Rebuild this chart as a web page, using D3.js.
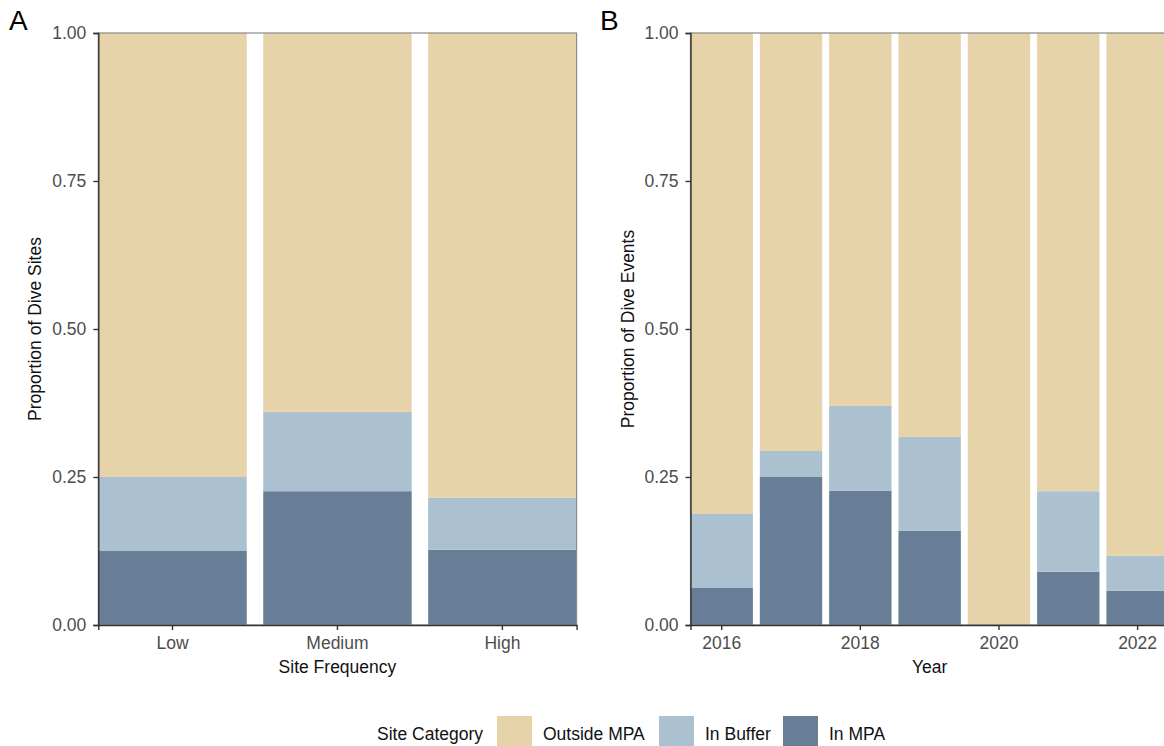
<!DOCTYPE html>
<html>
<head>
<meta charset="utf-8">
<script src="https://cdn.jsdelivr.net/npm/d3@7"></script>
<style>
  body { margin: 0; background: #fff; }
  svg { display: block; font-family: "Liberation Sans", Arial, sans-serif; }
</style>
</head>
<body>
<svg id="chart" width="1164" height="746"></svg>
<script>
// panel A: share of dive sites by site frequency
const freqCategories = ['Low', 'Medium', 'High']
const freqInMPA = [0.125, 0.226, 0.127]
const freqInBuffer = [0.125, 0.134, 0.088]
const freqOutside = [0.75, 0.64, 0.785]

// panel B: share of dive events by year
const years = [2016, 2017, 2018, 2019, 2020, 2021, 2022]
const yearInMPA = [0.0625, 0.25, 0.227, 0.159, 0, 0.09, 0.058]
const yearInBuffer = [0.125, 0.044, 0.143, 0.159, 0, 0.136, 0.059]
const yearOutside = [0.8125, 0.706, 0.63, 0.682, 1, 0.774, 0.883]

const yTicks = [0, 0.25, 0.5, 0.75, 1]
const yearTicks = [2016, 2018, 2020, 2022]

const keys = ['In MPA', 'In Buffer', 'Outside MPA']
const legendKeys = ['Outside MPA', 'In Buffer', 'In MPA']
const colors = { 'Outside MPA': '#e6d3a9', 'In Buffer': '#acc1cf', 'In MPA': '#687e96' }

const svg = d3.select('#chart')
const plotTop = 33, plotBottom = 625
const fontSize = 17.5

function toRows(cats, mpa, buffer, outside) {
  return cats.map((c, i) => ({ cat: c, 'In MPA': mpa[i], 'In Buffer': buffer[i], 'Outside MPA': outside[i] }))
}

function drawPanel(opts) {
  const { rows, cats, left, right, yTitle, xTitle, xTickValues, label, labelX } = opts

  const x = d3.scaleBand().domain(cats).range([left, right]).paddingInner(0.1).paddingOuter(0)
  const y = d3.scaleLinear().domain([0, 1]).range([plotBottom, plotTop])
  const series = d3.stack().keys(keys)(rows)

  const g = svg.append('g')

  g.selectAll('g.layer')
      .data(series)
    .enter().append('g')
      .attr('class', 'layer')
      .attr('fill', d => colors[d.key])
    .selectAll('rect')
      .data(d => d)
    .enter().append('rect')
      .attr('x', d => x(d.data.cat))
      .attr('width', x.bandwidth())
      .attr('y', d => y(d[1]))
      .attr('height', d => y(d[0]) - y(d[1]))

  // panel border
  g.append('rect')
    .attr('x', left).attr('y', plotTop)
    .attr('width', right - left).attr('height', plotBottom - plotTop)
    .attr('fill', 'none').attr('stroke', '#8a8a8a').attr('stroke-width', 1.2)

  const yAxis = g.append('g')
    .attr('transform', `translate(${left},0)`)
    .call(d3.axisLeft(y).tickValues(yTicks).tickFormat(d3.format('.2f')).tickSize(5).tickPadding(7))
  const xAxis = g.append('g')
    .attr('transform', `translate(0,${plotBottom})`)
    .call(d3.axisBottom(x).tickValues(xTickValues || cats).tickSize(5).tickPadding(7))

  ;[xAxis, yAxis].forEach(a => {
    a.select('.domain').attr('stroke', '#333').attr('stroke-width', 1.4)
    a.selectAll('.tick line').attr('stroke', '#333').attr('stroke-width', 1.4)
    a.selectAll('.tick text').attr('fill', '#4d4d4d').style('font-size', fontSize + 'px')
      .style('font-family', '"Liberation Sans", Arial, sans-serif')
  })

  g.append('text')
    .attr('x', (left + right) / 2)
    .attr('y', 673)
    .attr('text-anchor', 'middle')
    .style('font-size', fontSize + 'px')
    .attr('fill', '#111')
    .text(xTitle)

  g.append('text')
    .attr('transform', `translate(${left - 57},${(plotTop + plotBottom) / 2}) rotate(-90)`)
    .attr('text-anchor', 'middle')
    .style('font-size', fontSize + 'px')
    .attr('fill', '#111')
    .text(yTitle)

  svg.append('text')
    .attr('x', labelX).attr('y', 30)
    .style('font-size', '28px')
    .attr('fill', '#000')
    .text(label)
}

drawPanel({
  rows: toRows(freqCategories, freqInMPA, freqInBuffer, freqOutside),
  cats: freqCategories,
  left: 98.3, right: 576.6,
  yTitle: 'Proportion of Dive Sites',
  xTitle: 'Site Frequency',
  label: 'A', labelX: 9
})

drawPanel({
  rows: toRows(years, yearInMPA, yearInBuffer, yearOutside),
  cats: years,
  left: 690.5, right: 1168.8,
  xTickValues: yearTicks,
  yTitle: 'Proportion of Dive Events',
  xTitle: 'Year',
  label: 'B', labelX: 600
})

// legend
const legend = svg.append('g')
legend.append('text')
  .attr('x', 377).attr('y', 740)
  .style('font-size', fontSize + 'px')
  .attr('fill', '#111')
  .text('Site Category')

const legendPos = [497, 659, 783]
legendKeys.forEach((k, i) => {
  legend.append('rect')
    .attr('x', legendPos[i]).attr('y', 716)
    .attr('width', 35).attr('height', 35)
    .attr('fill', colors[k])
  legend.append('text')
    .attr('x', legendPos[i] + 46).attr('y', 740)
    .style('font-size', fontSize + 'px')
    .attr('fill', '#111')
    .text(k)
})
</script>
</body>
</html>
